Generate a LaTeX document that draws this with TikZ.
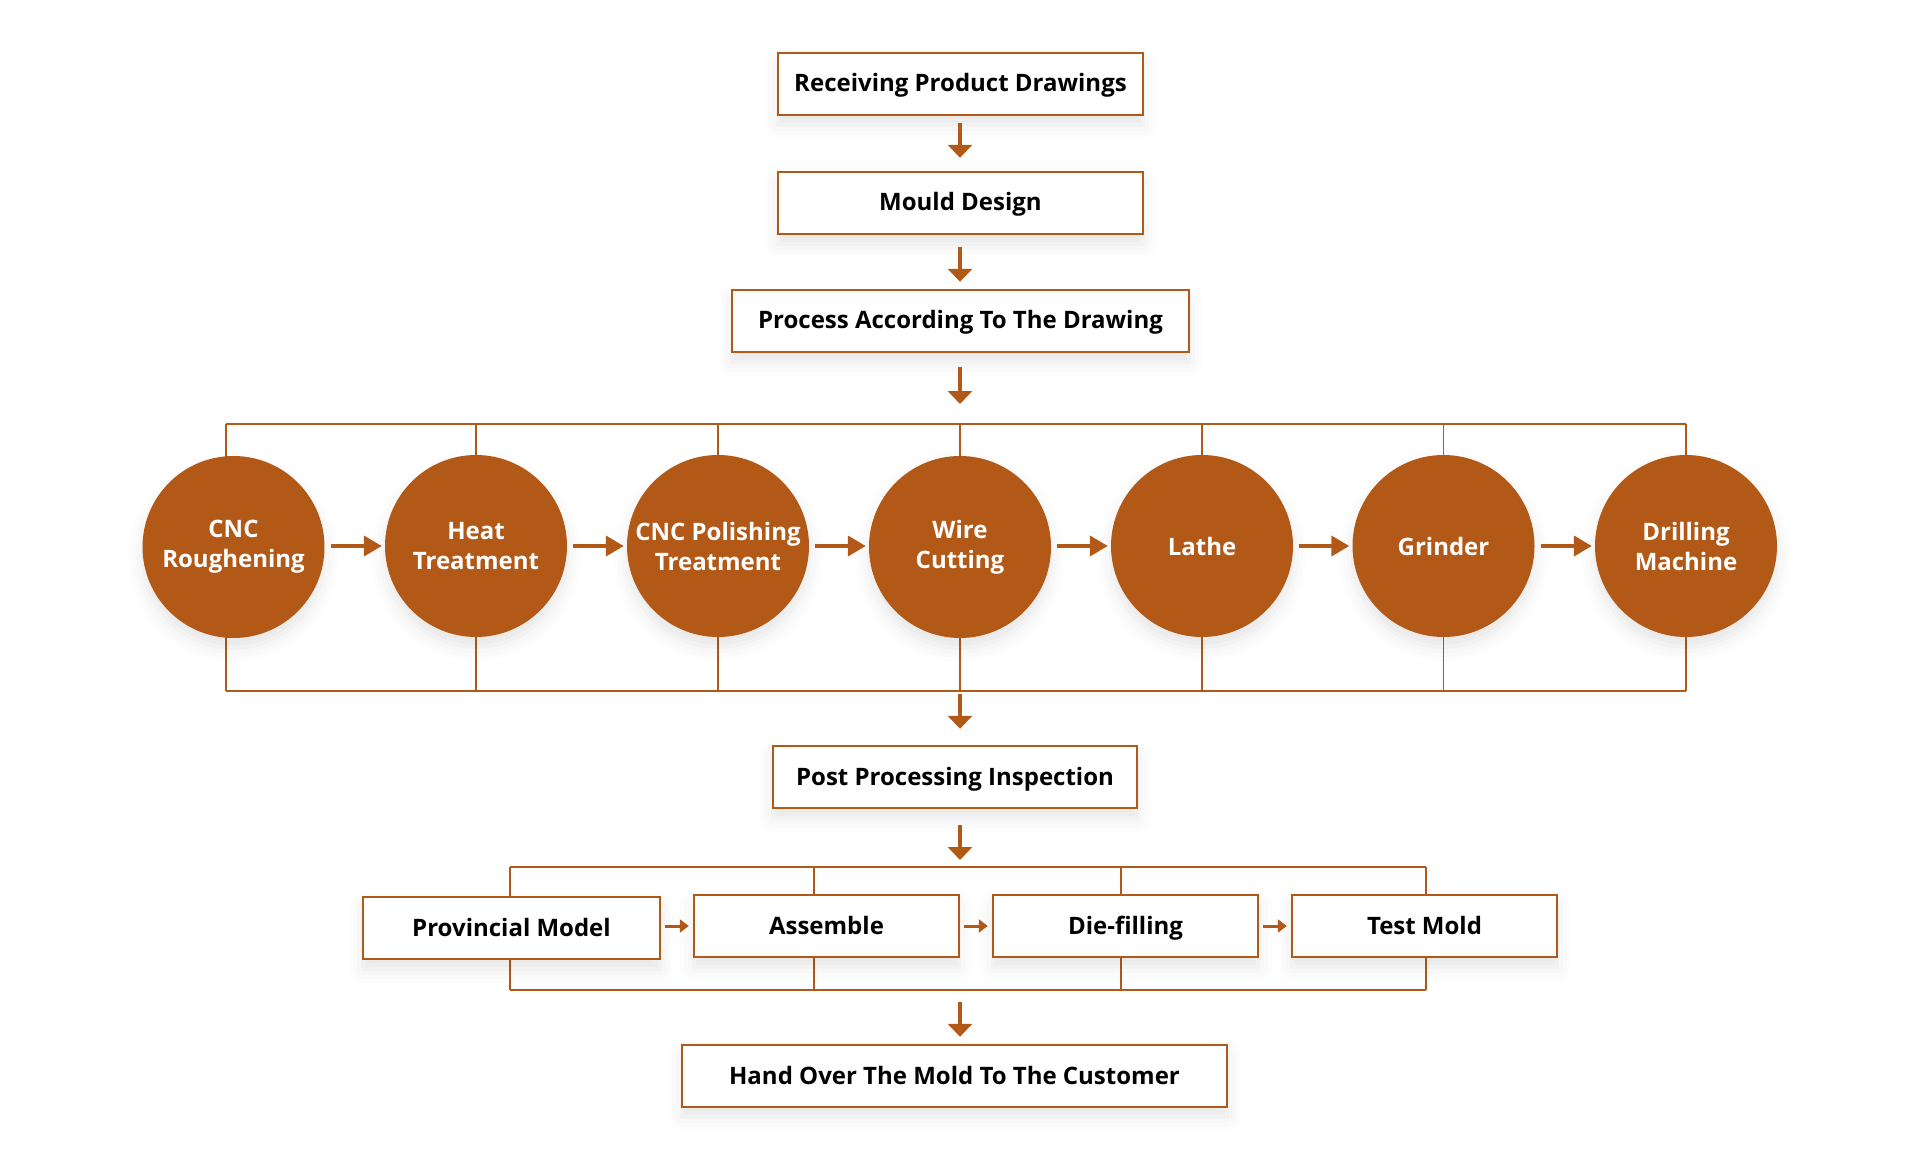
\documentclass[tikz,border=0pt]{standalone}
\usepackage{fontspec}
\setmainfont{Open Sans}
\usetikzlibrary{arrows.meta,shadows.blur}
\definecolor{rust}{HTML}{B35918}

\begin{document}
\begin{tikzpicture}[x=1pt,y=-1pt,font=\bfseries\fontsize{24}{30}\selectfont,
 soft/.style={blur shadow={shadow xshift=0pt,shadow yshift=-10pt,shadow blur radius=14pt,shadow opacity=10}},
 stepbox/.style={draw=rust,line width=2.4pt,fill=white,text=black,align=center,minimum height=62pt,inner sep=0pt,text height=22pt,text depth=6pt,soft},
 machine/.style={circle,fill=rust,text=white,align=center,minimum size=182pt,inner sep=0pt,soft},
 bracket/.style={draw=rust,line width=1.3pt},
 downarrow/.style={-{Triangle[length=13pt,width=24pt]},draw=rust,line width=4pt},
 hop/.style={-{Triangle[length=18pt,width=20pt]},draw=rust,line width=4pt,shorten <=6pt,shorten >=3pt},
 link/.style={-{Triangle[length=9pt,width=13pt]},draw=rust,line width=3pt,shorten <=4pt,shorten >=4pt}]
\useasboundingbox (0,0) rectangle (1920,1150);
\coordinate (axis) at (960,0);
\coordinate (utop) at (0,424);\coordinate (ubot) at (0,691);
\coordinate (ltop) at (0,867);\coordinate (lbot) at (0,990);
% top of the flow
\node[stepbox,minimum width=365pt] (recv) at (960.5,84) {Receiving Product Drawings};
\node[stepbox,minimum width=365pt] (mould) at (960.5,203) {Mould Design};
\node[stepbox,minimum width=457pt] (proc) at (960.5,321) {Process According To The Drawing};
% machining row
\coordinate (c1f) at (226,0);
\draw[bracket] (c1f |- utop)--(1686,424);
\draw[bracket] (c1f |- ubot)--(1686,691);
\draw[bracket] (c1f |- utop)--(c1f |- ubot);
\foreach \x in {476,718,960,1202,1443.5,1686}
  \draw[bracket] (\x,424)--(\x,691);
\node[machine] (cnc) at (233.5,547) {CNC\\Roughening};
\node[machine] (heat) at (476,546) {Heat\\Treatment};
\node[machine] (polish) at (718,546) {CNC Polishing\\Treatment};
\node[machine] (wire) at (960,547) {Wire\\Cutting};
\node[machine] (lathe) at (1202,546) {Lathe};
\node[machine] (grind) at (1443.5,546) {Grinder};
\node[machine] (drill) at (1686,546) {Drilling\\Machine};
\draw[hop] (cnc.east |- heat)--(heat);\draw[hop] (heat)--(polish);
\draw[hop] (polish)--(wire.west |- polish);\draw[hop] (wire.east |- lathe)--(lathe);
\draw[hop] (lathe)--(grind);\draw[hop] (grind)--(drill);
% inspection and assembly
\node[stepbox,minimum width=364pt] (post) at (955,777) {Post Processing Inspection};
\draw[bracket] (510,867)--(1426,867);
\draw[bracket] (510,990)--(1426,990);
\foreach \x in {510,814,1121,1426}
  \draw[bracket] (\x,867)--(\x,990);
\node[stepbox,minimum width=297pt] (prov) at (511.5,928) {Provincial Model};
\node[stepbox,minimum width=265pt] (asm) at (826.5,926) {Assemble};
\node[stepbox,minimum width=265pt] (die) at (1125.5,926) {Die-filling};
\node[stepbox,minimum width=265pt] (test) at (1424.5,926) {Test Mold};
\draw[link] (prov.east |- asm.west)--(asm.west);
\draw[link] (asm)--(die);\draw[link] (die)--(test);
\node[stepbox,minimum width=545pt] (hand) at (954.5,1076) {Hand Over The Mold To The Customer};
% down arrows
\draw[downarrow,shorten <=7pt,shorten >=13pt] (axis |- recv.south)--(axis |- mould.north);
\draw[downarrow,shorten <=12pt,shorten >=7pt] (axis |- mould.south)--(axis |- proc.north);
\draw[downarrow,shorten <=14pt,shorten >=20pt] (axis |- proc.south)--(axis |- utop);
\draw[downarrow,shorten <=3pt,shorten >=16pt] (axis |- ubot)--(axis |- post.north);
\draw[downarrow,shorten <=16pt,shorten >=7pt] (axis |- post.south)--(axis |- ltop);
\draw[downarrow,shorten <=12pt,shorten >=7pt] (axis |- lbot)--(axis |- hand.north);
\end{tikzpicture}
\end{document}
